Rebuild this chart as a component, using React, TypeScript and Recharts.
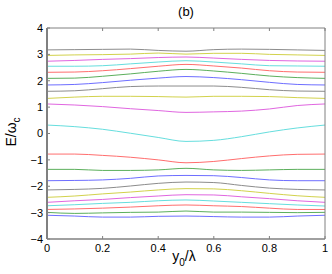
import React from "react";
import { LineChart, Line, XAxis, YAxis } from "recharts";

const xs = [0, 0.1, 0.2, 0.3, 0.4, 0.5, 0.6, 0.7, 0.8, 0.9, 1];
const xTicks = [0, 0.2, 0.4, 0.6, 0.8, 1];
const yTicks = [-4, -3, -2, -1, 0, 1, 2, 3, 4];

const s01 = [3.17, 3.18, 3.19, 3.2, 3.15, 3.12, 3.18, 3.2, 3.19, 3.17, 3.15];
const s02 = [2.96, 2.98, 2.99, 3.01, 3.05, 3.01, 3.04, 3.04, 3.0, 2.98, 2.96];
const s03 = [2.74, 2.77, 2.81, 2.84, 2.88, 2.9, 2.86, 2.81, 2.77, 2.75, 2.74];
const s04 = [2.55, 2.55, 2.57, 2.64, 2.71, 2.76, 2.71, 2.64, 2.57, 2.56, 2.55];
const s05 = [2.32, 2.33, 2.38, 2.46, 2.55, 2.62, 2.56, 2.48, 2.38, 2.33, 2.32];
const s06 = [2.09, 2.1, 2.17, 2.26, 2.36, 2.43, 2.37, 2.28, 2.18, 2.12, 2.09];
const s07 = [1.84, 1.86, 1.93, 2.02, 2.1, 2.16, 2.12, 2.04, 1.94, 1.86, 1.84];
const s08 = [1.6, 1.62, 1.7, 1.78, 1.8, 1.8, 1.8, 1.75, 1.66, 1.61, 1.6];
const s09 = [1.33, 1.38, 1.41, 1.41, 1.4, 1.38, 1.41, 1.41, 1.4, 1.36, 1.33];
const s10 = [1.12, 1.08, 1.02, 0.94, 0.87, 0.8, 0.82, 0.85, 0.93, 1.06, 1.12];
const s11 = [0.32, 0.26, 0.16, 0.01, -0.15, -0.3, -0.26, -0.12, 0.06, 0.21, 0.32];
const s12 = [-0.78, -0.78, -0.83, -0.9, -1.0, -1.11, -1.06, -0.95, -0.85, -0.79, -0.78];
const s13 = [-1.36, -1.36, -1.4, -1.4, -1.38, -1.32, -1.38, -1.4, -1.38, -1.36, -1.36];
const s14 = [-1.79, -1.78, -1.76, -1.7, -1.61, -1.59, -1.6, -1.67, -1.76, -1.79, -1.79];
const s15 = [-2.14, -2.12, -2.08, -1.99, -1.89, -1.84, -1.86, -1.97, -2.07, -2.12, -2.14];
const s16 = [-2.42, -2.37, -2.29, -2.22, -2.14, -2.09, -2.1, -2.17, -2.27, -2.36, -2.42];
const s17 = [-2.61, -2.55, -2.5, -2.43, -2.37, -2.32, -2.33, -2.4, -2.47, -2.55, -2.61];
const s18 = [-2.74, -2.7, -2.65, -2.61, -2.55, -2.52, -2.56, -2.61, -2.66, -2.71, -2.75];
const s19 = [-2.88, -2.86, -2.83, -2.79, -2.74, -2.71, -2.74, -2.77, -2.83, -2.88, -2.88];
const s20 = [-2.99, -3.03, -3.01, -2.99, -2.98, -2.94, -2.98, -2.98, -2.99, -3.0, -2.99];
const s21 = [-3.1, -3.13, -3.17, -3.17, -3.14, -3.13, -3.15, -3.17, -3.17, -3.13, -3.1];

const GRAY = "#8c8c8c";
const YEL = "#d2d24c";
const MAG = "#e066e0";
const CYA = "#66dede";
const RED = "#ff6e6e";
const GRN = "#5caf5c";
const BLU = "#6e6eff";

const series: [string, number[], string][] = [
  ["s01", s01, GRAY], ["s02", s02, YEL], ["s03", s03, MAG], ["s04", s04, CYA],
  ["s05", s05, RED], ["s06", s06, GRN], ["s07", s07, BLU], ["s08", s08, GRAY],
  ["s09", s09, YEL], ["s10", s10, MAG], ["s11", s11, CYA], ["s12", s12, RED],
  ["s13", s13, GRN], ["s14", s14, BLU], ["s15", s15, GRAY], ["s16", s16, YEL],
  ["s17", s17, MAG], ["s18", s18, CYA], ["s19", s19, RED], ["s20", s20, GRN],
  ["s21", s21, BLU],
];

const data = xs.map((x, i) => {
  const row: Record<string, number> = { x };
  series.forEach(([k, arr]) => { row[k] = arr[i]; });
  return row;
});

const FONT = "'Liberation Sans', Arial, Helvetica, sans-serif";
const AX = "#808080";
const fmtY = (v: number) => (v < 0 ? "\u2212" + Math.abs(v) : String(v));

const LeftTick = (p: any) => (
  <g>
    <line x1={p.x} x2={p.x + 3} y1={p.y} y2={p.y} stroke={AX} />
    <text x={p.x - 4} y={p.y} dy="0.36em" textAnchor="end" fontSize={11} fontFamily={FONT} fill="#000">
      {fmtY(p.payload.value)}
    </text>
  </g>
);
const BottomTick = (p: any) => (
  <g>
    <line x1={p.x} x2={p.x} y1={p.y} y2={p.y - 3} stroke={AX} />
    <text x={p.x} y={p.y + 13} textAnchor="middle" fontSize={11} fontFamily={FONT} fill="#000">
      {String(p.payload.value)}
    </text>
  </g>
);
const TopTick = (p: any) => (
  <line x1={p.x} x2={p.x} y1={p.y} y2={p.y + 3} stroke={AX} />
);
const RightTick = (p: any) => (
  <line x1={p.x} x2={p.x - 3} y1={p.y} y2={p.y} stroke={AX} />
);

const XLabel = (p: any) => {
  const vb = p.viewBox;
  const cx = vb.x + vb.width / 2 - 2;
  return (
    <text x={cx} y={vb.y + 22} textAnchor="middle" fontSize={14} fontFamily={FONT} fill="#000">
      y<tspan dy={5} fontSize={10}>0</tspan><tspan dy={-5}>/λ</tspan>
    </text>
  );
};
const YLabel = () => {
  const cx = 16;
  const cy = 132;
  return (
    <text x={cx} y={cy} transform={`rotate(-90 ${cx} ${cy})`} textAnchor="middle" fontSize={14} fontFamily={FONT} fill="#000">
      E/ω<tspan dy={4} fontSize={10}>c</tspan>
    </text>
  );
};
const Title = (p: any) => {
  const vb = p.viewBox;
  return (
    <text x={vb.x + vb.width / 2} y={16} textAnchor="middle" fontSize={13} fontFamily={FONT} fill="#000">
      (b)
    </text>
  );
};

export default function App() {
  return (
    <div style={{ position: "absolute", left: 0, top: 0, width: 332, height: 274, background: "#fff" }}>
      <LineChart width={332} height={274} data={data} margin={{ top: 27, right: 6, bottom: 0, left: 7 }}>
        <XAxis
          dataKey="x" type="number" domain={[0, 1]} ticks={xTicks} interval={0}
          height={35} tickSize={0} tickMargin={0} tickLine={false}
          axisLine={{ stroke: AX, strokeWidth: 1.6 }} tick={<BottomTick />} label={<XLabel />}
        />
        <XAxis
          xAxisId="top" orientation="top" dataKey="x" type="number" domain={[0, 1]} ticks={xTicks} interval={0}
          height={1} tickSize={0} tickMargin={0} tickLine={false}
          axisLine={{ stroke: AX }} tick={<TopTick />} label={<Title />}
        />
        <YAxis
          type="number" domain={[-4, 4]} ticks={yTicks} interval={0}
          width={40} tickSize={0} tickMargin={0} tickLine={false}
          axisLine={{ stroke: AX, strokeWidth: 2 }} tick={<LeftTick />} label={<YLabel />}
        />
        <YAxis
          yAxisId="right" orientation="right" type="number" domain={[-4, 4]} ticks={yTicks} interval={0}
          width={1} tickSize={0} tickMargin={0} tickLine={false}
          axisLine={{ stroke: AX }} tick={<RightTick />}
        />
        {series.map(([k, , c]) => (
          <Line key={k} dataKey={k} type="monotone" stroke={c} strokeWidth={1} dot={false} isAnimationActive={false} />
        ))}
      </LineChart>
    </div>
  );
}
